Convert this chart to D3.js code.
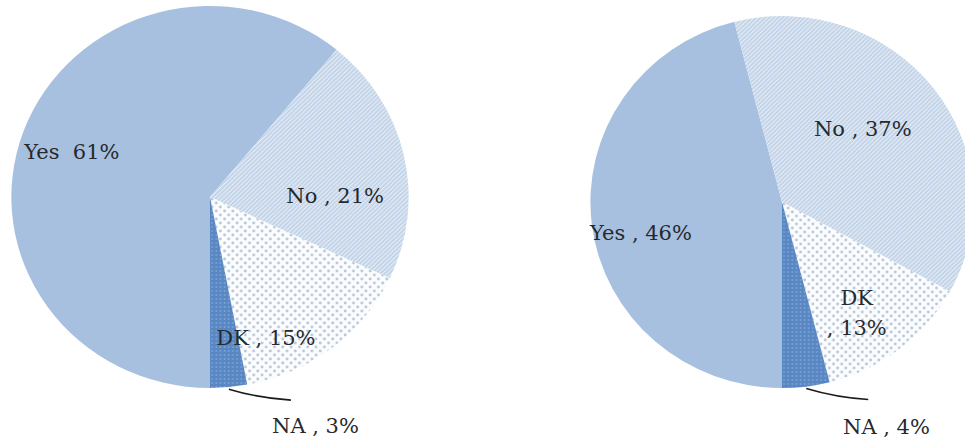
<!DOCTYPE html>
<html>
<head>
<meta charset="utf-8">
<script src="https://cdn.jsdelivr.net/npm/d3@7"></script>
<style>
  body { margin: 0; background: #fff; }
  text { font-family: "DejaVu Serif", serif; font-size: 21px; fill: #26292e; white-space: pre; }
</style>
</head>
<body>
<svg class="pies" width="965" height="442"></svg>
<script>
// survey answers, two pies
const categories = ["Yes", "No", "DK", "NA"];
const leftValues = [61, 21, 15, 3];
const rightValues = [46, 37, 13, 4];
const leftLabels = ["Yes  61%", "No , 21%", "DK , 15%", "NA , 3%"];
const rightLabels = ["Yes , 46%", "No , 37%", "DK\n, 13%", "NA , 4%"];

function drawPies() {
    const svg = d3.select("svg.pies");
    const defs = svg.append("defs");

    // fill patterns, close to the office-style textures
    const hatch = defs.append("pattern")
        .attr("id", "hatch")
        .attr("patternUnits", "userSpaceOnUse")
        .attr("width", 3).attr("height", 3)
        .attr("patternTransform", "rotate(45)");
    hatch.append("rect").attr("width", 3).attr("height", 3).attr("fill", "#c4d4e8");
    hatch.append("rect").attr("width", 1).attr("height", 3).attr("fill", "#e6eef7");

    const dots = defs.append("pattern")
        .attr("id", "dots")
        .attr("patternUnits", "userSpaceOnUse")
        .attr("width", 8).attr("height", 8);
    dots.append("rect").attr("width", 8).attr("height", 8).attr("fill", "#fbfcfe");
    dots.append("circle").attr("cx", 2).attr("cy", 2).attr("r", 1.4).attr("fill", "#bac7d7");
    dots.append("circle").attr("cx", 6).attr("cy", 6).attr("r", 1.4).attr("fill", "#bac7d7");

    const fine = defs.append("pattern")
        .attr("id", "fine")
        .attr("patternUnits", "userSpaceOnUse")
        .attr("width", 4).attr("height", 4);
    fine.append("rect").attr("width", 4).attr("height", 4).attr("fill", "#5887c4");
    fine.append("circle").attr("cx", 2).attr("cy", 2).attr("r", 0.9).attr("fill", "#7fa3d2");

    const color = d3.scaleOrdinal()
        .domain(categories)
        .range(["#a8c0df", "url(#hatch)", "url(#dots)", "url(#fine)"]);

    const pie = d3.pie()
        .sort(null)
        .startAngle(Math.PI)
        .endAngle(3 * Math.PI);

    const pies = [
        {
            values: leftValues, labels: leftLabels,
            cx: 210, cy: 197, r: 191, sx: 1.04,
            // label anchor: [radius factor, dx, dy]
            place: [[0.75, 2, 11], [0.62, 5, 32], [0.55, -11, 65], null],
            na: { x: 272, dy: 44 }
        },
        {
            values: rightValues, labels: rightLabels,
            cx: 782, cy: 202, r: 186, sx: 1.03,
            place: [[0.7, -8, 22], [0.6, -10, 2], [0.62, 2, 12], null],
            na: { x: 843, dy: 45 }
        }
    ];

    pies.forEach(p => {
        const arcs = pie(p.values);
        const arc = d3.arc().innerRadius(0).outerRadius(p.r);

        const g = svg.append("g")
            .attr("transform", `translate(${p.cx}, ${p.cy})`);

        g.append("g")
            .attr("transform", `scale(${p.sx}, 1)`)
            .selectAll("path")
            .data(arcs)
            .enter().append("path")
            .attr("d", arc)
            .attr("fill", (d, i) => color(categories[i]));

        arcs.forEach((d, i) => {
            const lines = p.labels[i].split("\n");
            if (p.place[i]) {
                const [k, dx, dy] = p.place[i];
                const c = d3.arc().innerRadius(p.r * k).outerRadius(p.r * k).centroid(d);
                const t = g.append("text")
                    .attr("text-anchor", "middle")
                    .attr("x", c[0] * p.sx + dx)
                    .attr("y", c[1] + dy);
                lines.forEach((s, j) => {
                    t.append("tspan")
                        .attr("x", c[0] * p.sx + dx)
                        .attr("dy", j === 0 ? 0 : 30)
                        .text(s);
                });
            } else {
                // small slice: leader line out to the label
                const mid = (d.startAngle + d.endAngle) / 2;
                const x0 = Math.sin(mid) * (p.r + 2) * p.sx;
                const y0 = -Math.cos(mid) * (p.r + 2);
                const x1 = x0 + 62, y1 = y0 + 11;
                g.append("path")
                    .attr("d", `M${x0},${y0}Q${x0 + 30},${y0 + 9} ${x1},${y1}`)
                    .attr("fill", "none")
                    .attr("stroke", "#1c1c1c")
                    .attr("stroke-width", 1.6);
                g.append("text")
                    .attr("x", p.na.x - p.cx)
                    .attr("y", y0 + p.na.dy)
                    .text(lines[0]);
            }
        });
    });
}

drawPies();
</script>
</body>
</html>
